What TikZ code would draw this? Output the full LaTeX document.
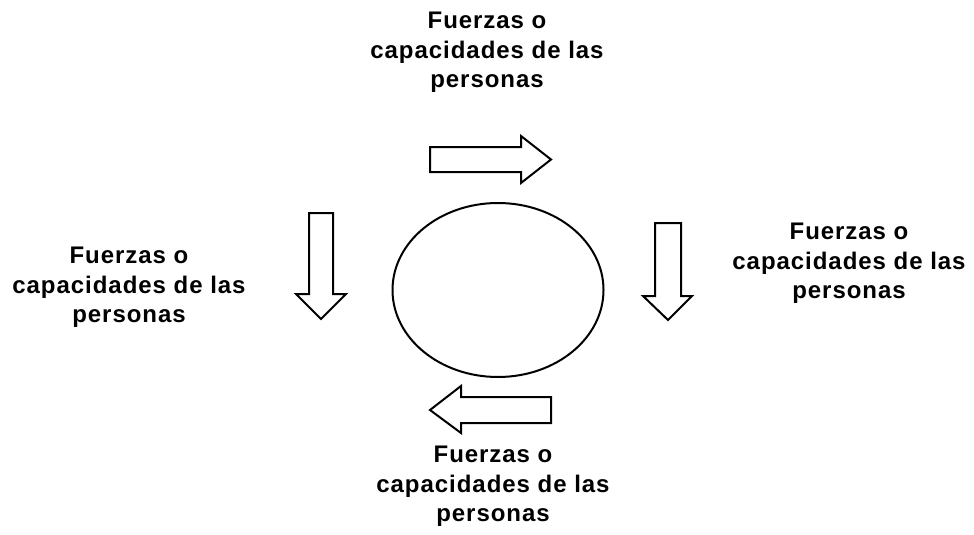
\documentclass[tikz,border=0pt]{standalone}
\usepackage{fontspec}
\newfontfamily\lblfont{Liberation Sans}[LetterSpace=4]
\usetikzlibrary{shapes.geometric}
\tikzset{
  lbl/.style={align=center, inner sep=0pt, anchor=north,
    font=\lblfont\bfseries\fontsize{24}{29.5}\selectfont},
  blockarrow/.style={draw=black, line width=2pt, fill=white, line join=miter},
  circ/.style={ellipse, draw=black, line width=2pt, inner sep=0pt}
}
\begin{document}
\begin{tikzpicture}[x=1pt,y=-1pt]
\useasboundingbox[fill=white] (0,0) rectangle (974,535);
% central ellipse
\node[circ, minimum width=211pt, minimum height=174pt] (core) at (498,290) {};
% labels
\node[lbl] (ltop) at (487,11.8) {Fuerzas o\\capacidades de las\\personas};
\node[lbl] (lright) at (849,222.8) {Fuerzas o\\capacidades de las\\personas};
\node[lbl] (lleft) at (129,246.8) {Fuerzas o\\capacidades de las\\personas};
\node[lbl] (lbottom) at (493,445.8) {Fuerzas o\\capacidades de las\\personas};
% top arrow (pointing right)
\draw[blockarrow] (430,147) -- (521,147) -- (521,136) -- (551,159.5) -- (521,183) -- (521,172) -- (430,172) -- cycle;
% bottom arrow (pointing left)
\draw[blockarrow] (551,397) -- (461,397) -- (461,386) -- (430,410) -- (461,433) -- (461,423) -- (551,423) -- cycle;
% right arrow (pointing down)
\draw[blockarrow] (655,223) -- (681,223) -- (681,296) -- (692,296) -- (668,320) -- (643,296) -- (655,296) -- cycle;
% left arrow (pointing down)
\draw[blockarrow] (309,213) -- (333,213) -- (333,294) -- (346,294) -- (321,319) -- (296,294) -- (309,294) -- cycle;
\end{tikzpicture}
\end{document}
